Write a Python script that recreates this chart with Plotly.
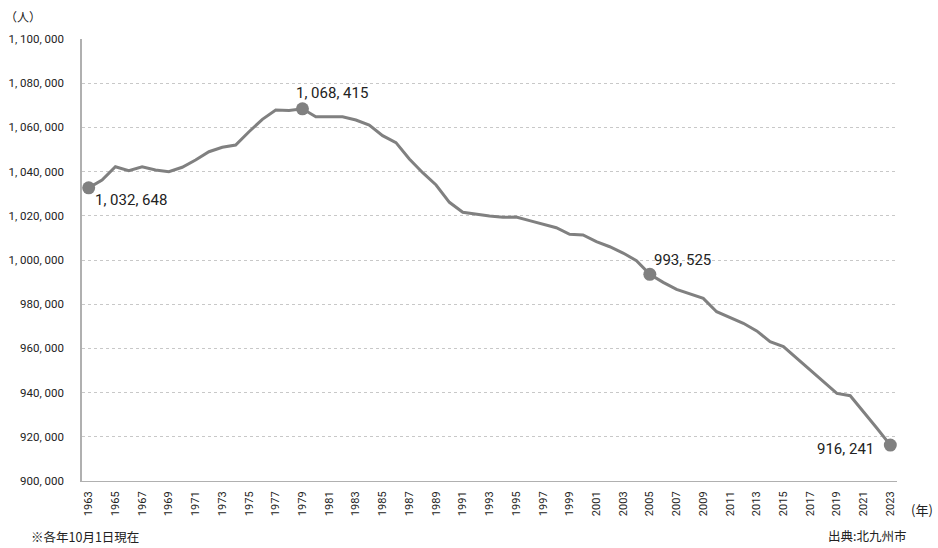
import plotly.graph_objects as go

years = list(range(1963, 2024))
population = [
    1032648, 1036200, 1042200, 1040400, 1042200, 1040700, 1039950, 1041950,
    1045250, 1049000, 1051000, 1052000, 1058050, 1063650, 1067900, 1067600,
    1068415, 1064850, 1064850, 1064800, 1063350, 1061100, 1056250, 1053100,
    1045700, 1039500, 1033950, 1026100, 1021600, 1020700, 1019900, 1019300,
    1019450, 1017800, 1016300, 1014600, 1011600, 1011300, 1008300, 1006000,
    1003150, 999700, 993525, 989900, 986700, 984600, 982650, 976600,
    974050, 971350, 967900, 963050, 960800, 955500, 950200, 944950,
    939650, 938600, 931350, 923850, 916241,
]
highlight_years = [1963, 1979, 2005, 2023]
y_ticks = list(range(900000, 1100001, 20000))
y_ticktext = [f"{v:,}".replace(",", ", ") for v in y_ticks]
x_ticks = list(range(1963, 2024, 2))

line_color = "#808080"
num_font = "Roboto, Liberation Sans, sans-serif"
jp_font = "Noto Sans CJK JP, sans-serif"

fig = go.Figure()
fig.add_trace(go.Scatter(
    x=years, y=population, mode="lines",
    line=dict(color=line_color, width=3), hoverinfo="x+y", showlegend=False,
))
hl_vals = [population[years.index(y)] for y in highlight_years]
fig.add_trace(go.Scatter(
    x=highlight_years, y=hl_vals, mode="markers",
    marker=dict(color=line_color, size=13), showlegend=False,
))

label_pos = {
    1963: dict(xanchor="left", yanchor="top", xshift=4, yshift=-1),
    1979: dict(xanchor="left", yanchor="bottom", xshift=-8, yshift=5),
    2005: dict(xanchor="left", yanchor="bottom", xshift=2, yshift=3),
    2023: dict(xanchor="right", yanchor="middle", xshift=-14, yshift=-4),
}
for yr, val in zip(highlight_years, hl_vals):
    fig.add_annotation(
        x=yr, y=val, text=f"{val:,}".replace(",", ", "), showarrow=False,
        font=dict(family=num_font, size=15, color="#222222"), **label_pos[yr],
    )

fig.add_annotation(xref="paper", yref="paper", x=-0.097, y=1.05, xanchor="left", yanchor="middle",
                   text="（人）", showarrow=False, font=dict(family=jp_font, size=12, color="#222"))
fig.add_annotation(xref="paper", yref="paper", x=1.015, y=-0.065, xanchor="left", yanchor="middle",
                   text="(年)", showarrow=False, font=dict(family=jp_font, size=13, color="#222"))
fig.add_annotation(xref="paper", yref="paper", x=-0.065, y=-0.125, xanchor="left", yanchor="middle",
                   text="※各年10月1日現在", showarrow=False, font=dict(family=jp_font, size=12.5, color="#222"))
fig.add_annotation(xref="paper", yref="paper", x=0.913, y=-0.149, xanchor="left", yanchor="bottom",
                   text="出典:北九州市", showarrow=False, font=dict(family=jp_font, size=12.5, color="#222"))

fig.update_layout(
    width=938, height=548,
    margin=dict(l=82, r=41, t=39, b=67),
    paper_bgcolor="white", plot_bgcolor="white",
    xaxis=dict(
        range=[1962.5, 2023.5], tickvals=x_ticks, ticktext=[str(v) for v in x_ticks],
        tickangle=-90, showgrid=False, zeroline=False, showline=True,
        linecolor="#b0b0b0", linewidth=1, ticks="", automargin=False,
        ticklabelstandoff=5,
        tickfont=dict(family=num_font, size=11, color="#222"),
    ),
    yaxis=dict(
        range=[900000, 1100000], tickvals=y_ticks, ticktext=y_ticktext,
        showgrid=True, gridcolor="#c8c8c8", griddash="dot", gridwidth=1,
        zeroline=False, showline=True, linecolor="#b0b0b0", linewidth=1.5, ticks="",
        ticklabelstandoff=14, automargin=False,
        tickfont=dict(family=num_font, size=11.5, color="#222"),
    ),
)
fig.write_html(
    "out.html",
    config={"displayModeBar": False},
    post_script="document.body.style.margin='0';document.body.style.overflow='hidden';",
)
